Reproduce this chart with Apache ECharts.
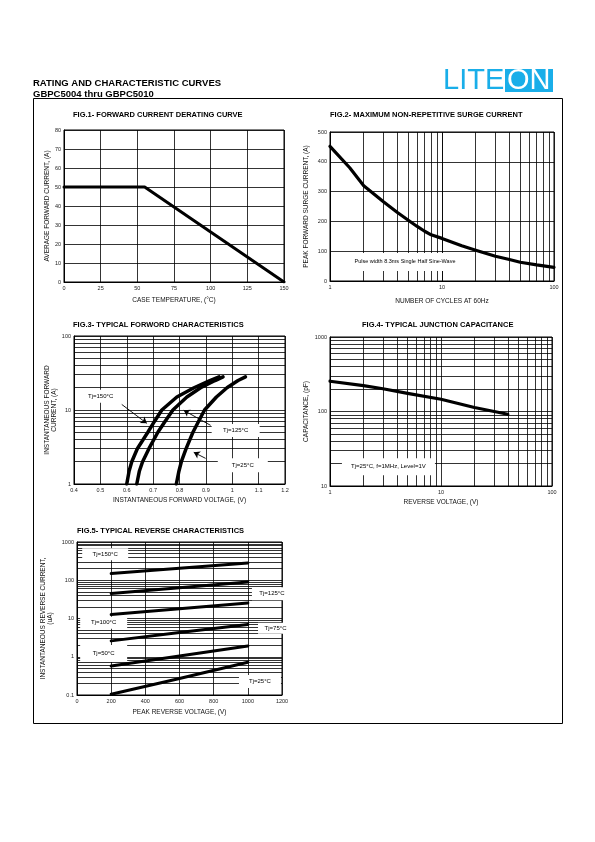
<!DOCTYPE html>
<html><head><meta charset="utf-8">
<script src="https://cdn.jsdelivr.net/npm/echarts@6/dist/echarts.min.js"></script>
<style>html,body{margin:0;padding:0;background:#fff}#main{width:595px;height:842px}</style>
</head><body><div id="main"></div>
<script>
// ---------- DATA ----------
// Fig.1 Forward current derating curve
const fig1XTicks = [0, 25, 50, 75, 100, 125, 150];
const fig1YTicks = [0, 10, 20, 30, 40, 50, 60, 70, 80];
const fig1Temp = [0, 55, 150];
const fig1Current = [50, 50, 0];

// Fig.2 Max non-repetitive surge current
const fig2XTicks = [1, 10, 100];
const fig2YTicks = [0, 100, 200, 300, 400, 500];
const fig2Cycles = [1, 1.5, 2, 3, 4, 5, 6, 7, 8, 10, 15, 20, 30, 40, 50, 70, 100];
const fig2Current = [452, 380, 320, 266, 230, 204, 183, 167, 155, 143, 118, 103, 83, 72, 63, 54, 46];

// Fig.3 Typical forward characteristics
const fig3XTicks = [0.4, 0.5, 0.6, 0.7, 0.8, 0.9, 1.0, 1.1, 1.2];
const fig3YTicks = [1, 10, 100];
const fig3Current = [1, 1.5, 2, 3, 5, 7, 10, 15, 20, 25, 28];
const fig3V150 = [0.600, 0.609, 0.619, 0.640, 0.680, 0.705, 0.733, 0.790, 0.855, 0.915, 0.950];
const fig3V125 = [0.638, 0.648, 0.660, 0.684, 0.718, 0.745, 0.775, 0.828, 0.880, 0.935, 0.965];
const fig3V25  = [0.788, 0.798, 0.807, 0.825, 0.851, 0.872, 0.895, 0.940, 0.980, 1.022, 1.050];

// Fig.4 Typical junction capacitance
const fig4XTicks = [1, 10, 100];
const fig4YTicks = [10, 100, 1000];
const fig4Voltage = [1, 2, 3, 5, 10, 20, 40];
const fig4Cap = [255, 222, 202, 175, 146, 113, 92];

// Fig.5 Typical reverse characteristics
const fig5XTicks = [0, 200, 400, 600, 800, 1000, 1200];
const fig5YTicks = [0.1, 1, 10, 100, 1000];
const fig5Voltage = [200, 600, 1000];
const fig5I150 = [150, 205, 283];
const fig5I125 = [45, 64, 90];
const fig5I100 = [12.7, 18, 25.5];
const fig5I75  = [2.6, 4.3, 7.0];
const fig5I50  = [0.57, 1.05, 1.9];
const fig5I25  = [0.105, 0.27, 0.72];

// ---------- HELPERS ----------
const FONT = 'Liberation Sans';
const zip = (a, b) => a.map((v, i) => [v, b[i]]);
const fmt = v => String(+(+v).toPrecision(6));
function logMinors(lo, hi) {
  const out = [];
  for (let d = lo; d < hi * 0.999; d *= 10)
    for (let k = 2; k <= 9; k++) out.push(+(d * k).toPrecision(4));
  return out;
}
function gridSeries(idx, x0, y0, xs, ys, boxes) {
  return {
    type: 'line', xAxisIndex: idx, yAxisIndex: idx, data: [[x0, y0]],
    symbol: 'none', lineStyle: { width: 0, opacity: 0 }, silent: true, z: 1,
    animation: false,
    markLine: {
      silent: true, symbol: 'none', animation: false, z: 3,
      label: { show: false }, emphasis: { disabled: true },
      lineStyle: { color: '#000', width: 0.8, type: 'solid' },
      data: [...xs.map(v => ({ xAxis: v })), ...ys.map(v => ({ yAxis: v }))]
    },
    markPoint: boxes ? {
      silent: true, animation: false, z: 4,
      itemStyle: { color: '#fff', borderWidth: 0 },
      label: { show: true, position: 'inside', color: '#000', fontSize: 6, fontFamily: FONT, formatter: '{b}' },
      data: boxes
    } : undefined
  };
}
function curve(idx, data, width, arrows) {
  return {
    type: 'line', xAxisIndex: idx, yAxisIndex: idx, data, symbol: 'none',
    smooth: false, silent: true, z: 6, animation: false,
    lineStyle: { color: '#000', width: width, cap: 'round', join: 'round' },
    markLine: arrows ? {
      silent: true, animation: false, z: 7, symbol: ['none', 'arrow'], symbolSize: 6,
      label: { show: false }, emphasis: { disabled: true },
      lineStyle: { color: '#000', width: 0.9, type: 'solid' },
      itemStyle: { color: '#000' },
      data: arrows
    } : undefined
  };
}
const tickLabel = { fontSize: 5.5, color: '#222', fontFamily: FONT, margin: 3, formatter: fmt };
const nameStyle = { fontSize: 6.5, color: '#111', fontFamily: FONT };
const split = { show: true, lineStyle: { color: '#000', width: 0.8 } };
function axis(idx, type, ticks, opts) {
  const o = {
    gridIndex: idx, type: type, min: ticks[0], max: ticks[ticks.length - 1],
    axisLine: { show: true, lineStyle: { color: '#000', width: 1 } },
    axisTick: { show: false }, axisLabel: Object.assign({}, tickLabel),
    splitLine: split, nameLocation: 'middle', nameTextStyle: nameStyle
  };
  if (type === 'log') o.logBase = 10; else o.interval = +(ticks[1] - ticks[0]).toPrecision(6);
  return Object.assign(o, opts);
}

const grids = [
  { left: 64, top: 130, width: 220, height: 152 },
  { left: 330, top: 132, width: 224, height: 149 },
  { left: 74, top: 336, width: 211, height: 148 },
  { left: 330, top: 337, width: 222, height: 149 },
  { left: 77, top: 542, width: 205, height: 153 }
].map(g => Object.assign(g, { show: true, borderColor: '#000', borderWidth: 1, backgroundColor: 'transparent', containLabel: false }));

const titleStyle = { fontSize: 7.5, fontWeight: 'bold', color: '#000', fontFamily: FONT };
const option = {
  animation: false,
  backgroundColor: '#fff',
  title: [
    { text: 'FIG.1- FORWARD CURRENT DERATING CURVE', left: 73, top: 111, textStyle: titleStyle, padding: 0 },
    { text: 'FIG.2- MAXIMUM NON-REPETITIVE SURGE CURRENT', left: 330, top: 111, textStyle: titleStyle, padding: 0 },
    { text: 'FIG.3- TYPICAL FORWORD CHARACTERISTICS', left: 73, top: 321, textStyle: titleStyle, padding: 0 },
    { text: 'FIG.4- TYPICAL JUNCTION CAPACITANCE', left: 362, top: 321, textStyle: titleStyle, padding: 0 },
    { text: 'FIG.5- TYPICAL REVERSE CHARACTERISTICS', left: 77, top: 527, textStyle: titleStyle, padding: 0 }
  ],
  grid: grids,
  xAxis: [
    axis(0, 'value', fig1XTicks, { name: 'CASE TEMPERATURE, (°C)', nameGap: 15 }),
    axis(1, 'log', fig2XTicks, { name: 'NUMBER OF CYCLES AT 60Hz', nameGap: 17 }),
    axis(2, 'value', fig3XTicks, { name: 'INSTANTANEOUS FORWARD VOLTAGE, (V)', nameGap: 12.5 }),
    axis(3, 'log', fig4XTicks, { name: 'REVERSE VOLTAGE, (V)', nameGap: 12.5 }),
    axis(4, 'value', fig5XTicks, { name: 'PEAK REVERSE VOLTAGE, (V)', nameGap: 14 })
  ],
  yAxis: [
    axis(0, 'value', fig1YTicks, { name: 'AVERAGE FORWARD CURRENT, (A)', nameGap: 11 }),
    axis(1, 'value', fig2YTicks, { name: 'PEAK FORWARD SURGE CURRENT, (A)', nameGap: 20 }),
    axis(2, 'log', fig3YTicks, { name: 'INSTANTANEOUS FORWARD\nCURRENT, (A)', nameGap: 16 }),
    axis(3, 'log', fig4YTicks, { name: 'CAPACITANCE, (pF)', nameGap: 20 }),
    axis(4, 'log', fig5YTicks, { name: 'INSTANTANEOUS REVERSE CURRENT,\n(uA)', nameGap: 23 })
  ],
  graphic: [
    { type: 'text', left: 33, top: 78, style: { text: 'RATING AND CHARACTERISTIC CURVES', font: 'bold 9.5px "Liberation Sans"', fill: '#000' } },
    { type: 'text', left: 33, top: 89, style: { text: 'GBPC5004 thru GBPC5010', font: 'bold 9.5px "Liberation Sans"', fill: '#000' } },
    { type: 'text', left: 443, top: 66, style: { text: 'LITE', font: '29px "Liberation Sans"', fill: '#19aee9' } },
    { type: 'rect', shape: { x: 505, y: 69, width: 48, height: 23 }, style: { fill: '#19aee9' } },
    { type: 'text', left: 507, top: 66, style: { text: 'ON', font: '29px "Liberation Sans"', fill: '#fff' } },
    { type: 'rect', shape: { x: 33.5, y: 98.5, width: 529, height: 625 }, style: { fill: 'none', stroke: '#000', lineWidth: 1 } }
  ],
  series: [
    // Fig 1
    gridSeries(0, 0, 0, [], []),
    curve(0, zip(fig1Temp, fig1Current), 3),
    // Fig 2
    gridSeries(1, 1, 0, logMinors(1, 100).concat([10]), [], [
      { name: 'Pulse width 8.3ms Single Half Sine-Wave', coord: [4.67, 64], symbol: 'rect', symbolSize: [126, 18],
        label: { fontSize: 5.5 } }
    ]),
    curve(1, zip(fig2Cycles, fig2Current), 3.2),
    // Fig 3
    gridSeries(2, 0.4, 1, [], logMinors(1, 100), [
      { name: 'Tj=150°C', coord: [0.501, 15.3], symbol: 'rect', symbolSize: [40, 13] },
      { name: 'Tj=125°C', coord: [1.013, 5.3], symbol: 'rect', symbolSize: [48, 13] },
      { name: 'Tj=25°C', coord: [1.04, 1.79], symbol: 'rect', symbolSize: [50, 14] }
    ]),
    curve(2, zip(fig3V150, fig3Current), 3.5, [
      [{ coord: [0.581, 11.9] }, { coord: [0.676, 6.6] }],
      [{ coord: [0.918, 6.2] }, { coord: [0.816, 9.9] }],
      [{ coord: [0.899, 2.22] }, { coord: [0.854, 2.68] }]
    ]),
    curve(2, zip(fig3V125, fig3Current), 3.5),
    curve(2, zip(fig3V25, fig3Current), 3.5),
    // Fig 4
    gridSeries(3, 1, 10, logMinors(1, 100), logMinors(10, 1000), [
      { name: 'Tj=25°C, f=1MHz, Level=1V', coord: [3.36, 18.1], symbol: 'rect', symbolSize: [93, 17] }
    ]),
    curve(3, zip(fig4Voltage, fig4Cap), 3.2),
    // Fig 5
    gridSeries(4, 0, 0.1, [], logMinors(0.1, 1000), [
      { name: 'Tj=150°C', coord: [165, 477], symbol: 'rect', symbolSize: [46, 12] },
      { name: 'Tj=125°C', coord: [1141, 44.6], symbol: 'rect', symbolSize: [40, 13] },
      { name: 'Tj=100°C', coord: [156, 7.8], symbol: 'rect', symbolSize: [47, 12] },
      { name: 'Tj=75°C', coord: [1162, 5.6], symbol: 'rect', symbolSize: [35, 11] },
      { name: 'Tj=50°C', coord: [156, 1.21], symbol: 'rect', symbolSize: [47, 17] },
      { name: 'Tj=25°C', coord: [1071, 0.225], symbol: 'rect', symbolSize: [42, 13] }
    ]),
    curve(4, zip(fig5Voltage, fig5I150), 3),
    curve(4, zip(fig5Voltage, fig5I125), 3),
    curve(4, zip(fig5Voltage, fig5I100), 3),
    curve(4, zip(fig5Voltage, fig5I75), 3),
    curve(4, zip(fig5Voltage, fig5I50), 3),
    curve(4, zip(fig5Voltage, fig5I25), 3)
  ]
};
const chart = echarts.init(document.getElementById('main'), null, { renderer: 'canvas', width: 595, height: 842 });
chart.setOption(option);
</script>
</body></html>
